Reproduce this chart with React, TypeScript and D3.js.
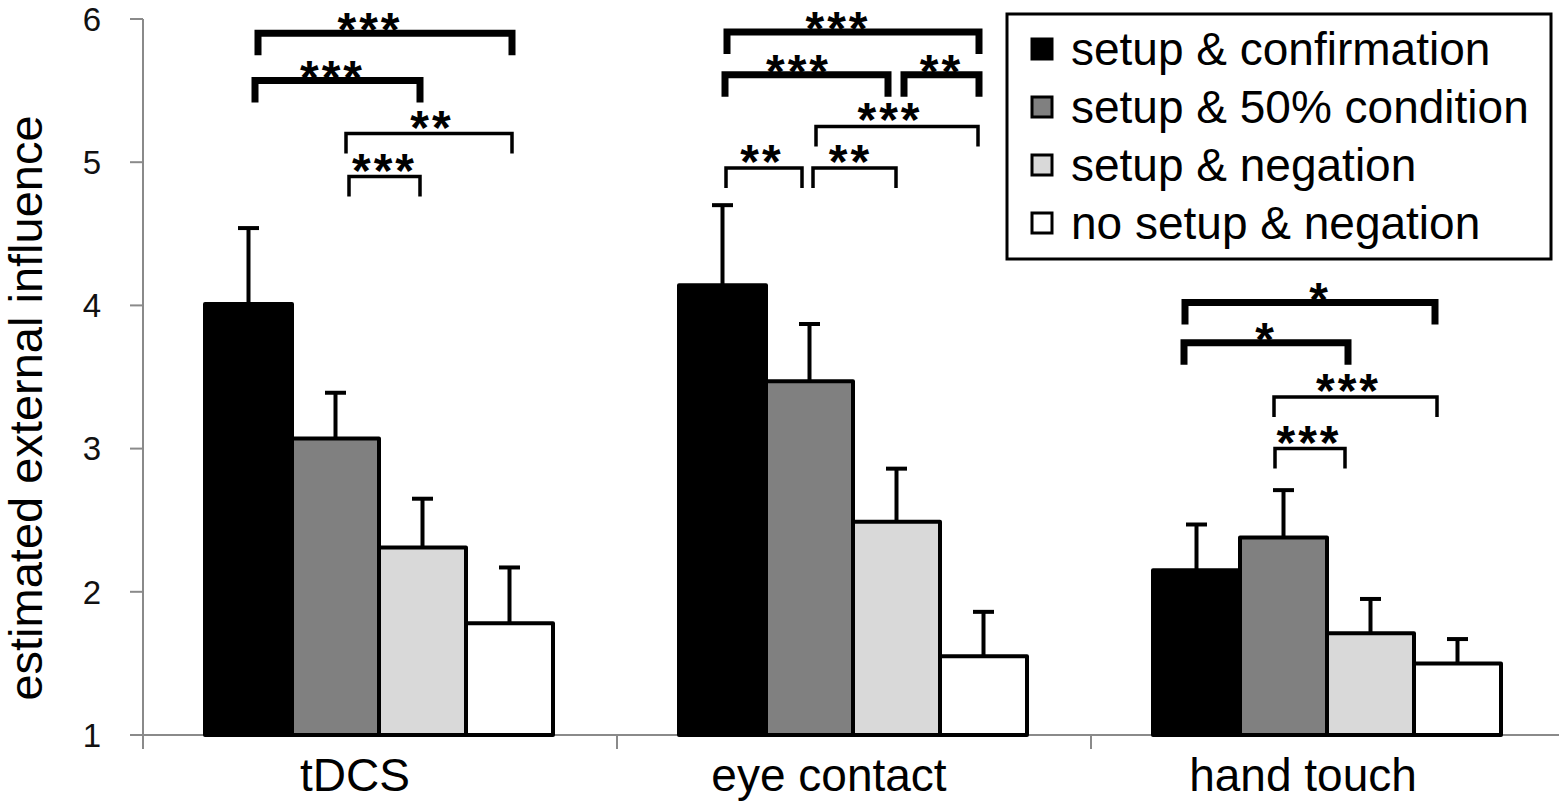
import React from "react";
import * as d3 from "d3";

// ---------- data ----------
const categories = ["tDCS", "eye contact", "hand touch"];
const seriesNames = [
  "setup & confirmation",
  "setup & 50% condition",
  "setup & negation",
  "no setup & negation",
];
const seriesColors = ["#000000", "#808080", "#d9d9d9", "#ffffff"];

// means per series, one value per category
const confirmationMeans = [4.01, 4.14, 2.15];
const fiftyPercentMeans = [3.07, 3.47, 2.38];
const negationMeans = [2.31, 2.49, 1.71];
const noSetupNegationMeans = [1.78, 1.55, 1.5];

// error bar (upper) magnitudes
const confirmationErr = [0.53, 0.56, 0.32];
const fiftyPercentErr = [0.32, 0.4, 0.33];
const negationErr = [0.34, 0.37, 0.24];
const noSetupNegationErr = [0.39, 0.31, 0.17];

const yTicks = [1, 2, 3, 4, 5, 6];

// significance brackets: category index, from series, to series, level (y units), stars, thick
const bracketCat = [0, 0, 0, 0, 1, 1, 1, 1, 1, 1, 2, 2, 2, 2];
const bracketFrom = [0, 0, 1, 1, 0, 0, 2, 1, 0, 1, 0, 0, 1, 1];
const bracketTo = [3, 2, 3, 2, 3, 2, 3, 3, 1, 2, 3, 2, 3, 2];
const bracketLevel = [5.9, 5.57, 5.2, 4.9, 5.91, 5.61, 5.61, 5.25, 4.96, 4.96, 4.02, 3.74, 3.36, 3.0];
const bracketStars = ["***", "***", "**", "***", "***", "***", "**", "***", "**", "**", "*", "*", "***", "***"];
const bracketThick = [true, true, false, false, true, true, true, false, false, false, true, true, false, false];

// ---------- layout / style (not data) ----------
const W = 1559;
const H = 806;
const AXIS_X = 143;
const GROUP_W = 474;
const BAR_INNER_START = 62;
const BAR_W = 87;
const AXIS_GRAY = "#8a8a8a";
const FONT = "'Liberation Sans', Arial, Helvetica, sans-serif";
// small hand nudges for bracket ends / star labels [dxLeft, dxRight, dxStars]
const bracketNudge: [number, number, number][] = [
  [9.5, 2.5, -15], [6.5, -2.5, -5], [10.5, 2.5, 3], [13.5, -2.5, 0],
  [4.5, -4.5, -15], [2.5, -8.5, -8], [7.5, -4.5, 0], [6.5, -5.5, -7], [3.5, -7.5, -2], [3.5, -0.5, -4],
  [-11.5, -22.5, 10], [-12.5, -22.5, 0], [-9.5, -20.5, -7], [-8.5, -25.5, -1],
];

export default function App() {
  const means = [confirmationMeans, fiftyPercentMeans, negationMeans, noSetupNegationMeans];
  const errs = [confirmationErr, fiftyPercentErr, negationErr, noSetupNegationErr];

  const y = d3.scaleLinear().domain([1, 6]).range([735, 19]);
  const x0 = d3
    .scaleBand<string>()
    .domain(categories)
    .range([AXIS_X, AXIS_X + GROUP_W * categories.length])
    .padding(0);
  const x1 = d3
    .scaleBand<string>()
    .domain(seriesNames)
    .range([BAR_INNER_START, BAR_INNER_START + BAR_W * seriesNames.length])
    .padding(0);

  const barCenter = (ci: number, si: number) =>
    (x0(categories[ci]) as number) + (x1(seriesNames[si]) as number) + x1.bandwidth() / 2;

  const y0 = y(1);

  const bars: React.ReactNode[] = [];
  const errBars: React.ReactNode[] = [];
  categories.forEach((cat, ci) => {
    seriesNames.forEach((s, si) => {
      const v = means[si][ci];
      const bx = (x0(cat) as number) + (x1(s) as number);
      const by = y(v);
      bars.push(
        <rect
          key={`b-${ci}-${si}`}
          x={bx}
          y={by}
          width={x1.bandwidth()}
          height={y0 - by}
          fill={seriesColors[si]}
          stroke="#000"
          strokeWidth={4}
          strokeLinejoin="round"
        />
      );
      const cx = bx + x1.bandwidth() / 2;
      const top = y(v + errs[si][ci]);
      errBars.push(
        <g key={`e-${ci}-${si}`} stroke="#000" strokeWidth={4}>
          <line x1={cx} x2={cx} y1={by} y2={top} />
          <line x1={cx - 10.5} x2={cx + 10.5} y1={top} y2={top} />
        </g>
      );
    });
  });

  const brackets = bracketCat.map((ci, i) => {
    const [dl, dr, ds] = bracketNudge[i];
    const xl = barCenter(ci, bracketFrom[i]) + dl;
    const xr = barCenter(ci, bracketTo[i]) + dr;
    const ly = y(bracketLevel[i]);
    const thick = bracketThick[i];
    const sw = thick ? 7 : 3.5;
    const leg = thick ? 22 : 20;
    const xm = (xl + xr) / 2 + ds;
    return (
      <g key={`br-${i}`}>
        <path
          d={`M${xl},${ly + leg} L${xl},${ly} L${xr},${ly} L${xr},${ly + leg}`}
          fill="none"
          stroke="#000"
          strokeWidth={sw}
          strokeLinejoin="miter"
        />
        <text
          x={xm}
          y={thick ? ly + 13 : ly + 10}
          textAnchor="middle"
          fontFamily={FONT}
          fontWeight="bold"
          fontSize={48}
          letterSpacing={3}
          fill="#000"
        >
          {bracketStars[i]}
        </text>
      </g>
    );
  });

  const xEnd = W;

  return (
    <svg
      width={W}
      height={H}
      style={{ position: "absolute", left: 0, top: 0, display: "block", background: "#fff" }}
      fontFamily={FONT}
    >
      {/* axes */}
      <g stroke={AXIS_GRAY} strokeWidth={2}>
        <line x1={AXIS_X} x2={AXIS_X} y1={y(6)} y2={y0 + 14} />
        <line x1={AXIS_X} x2={xEnd} y1={y0} y2={y0} />
        {yTicks.map((t) => (
          <line key={`yt-${t}`} x1={AXIS_X - 13} x2={AXIS_X} y1={y(t)} y2={y(t)} />
        ))}
        {categories.slice(1).map((c) => (
          <line key={`xt-${c}`} x1={x0(c) as number} x2={x0(c) as number} y1={y0} y2={y0 + 14} />
        ))}
      </g>
      {yTicks.map((t) => (
        <text
          key={`yl-${t}`}
          x={101}
          y={y(t)}
          dy="0.36em"
          textAnchor="end"
          fontSize={33}
          fill="#111"
        >
          {t}
        </text>
      ))}
      <text
        transform={`translate(42, 408) rotate(-90)`}
        textAnchor="middle"
        fontSize={47}
        fill="#000"
      >
        estimated external influence
      </text>

      {bars}
      {errBars}

      {categories.map((c) => (
        <text
          key={`xl-${c}`}
          x={(x0(c) as number) + x0.bandwidth() / 2 - 25}
          y={791}
          textAnchor="middle"
          fontSize={46}
          fill="#000"
        >
          {c}
        </text>
      ))}

      {brackets}

      {/* legend */}
      <g>
        <rect x={1007} y={14} width={544} height={245} fill="#fff" stroke="#000" strokeWidth={3} />
        {seriesNames.map((s, i) => {
          const cy = 49 + i * 58;
          return (
            <g key={`lg-${i}`}>
              <rect x={1032} y={cy - 10} width={20} height={20} fill={seriesColors[i]} stroke="#000" strokeWidth={3} />
              <text x={1071} y={cy + 16} fontSize={46} fill="#000">
                {s}
              </text>
            </g>
          );
        })}
      </g>
    </svg>
  );
}
